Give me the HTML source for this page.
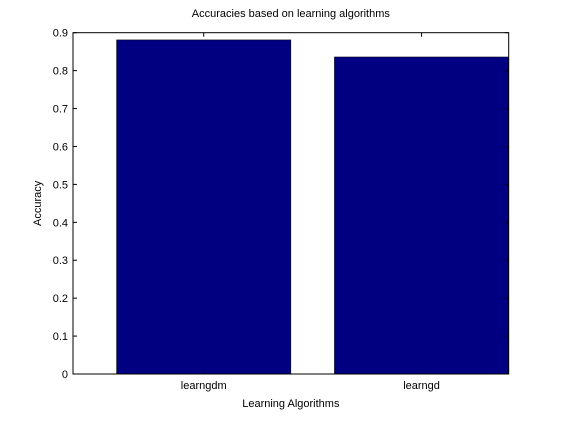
<!DOCTYPE html>
<html><head><meta charset="utf-8"><style>
body{margin:0;background:#fff;}
svg text{font-family:"Liberation Sans",Arial,sans-serif;font-size:11px;fill:#000;}
</style></head><body>
<svg width="561" height="420">
<rect width="561" height="420" fill="#fff"/>
<g id="plot"></g>
</svg>
<script>
const categories=["learngdm","learngd"];
const values=[0.881,0.836];
const yTicks=[0,0.1,0.2,0.3,0.4,0.5,0.6,0.7,0.8,0.9];
const yTickLabels=["0","0.1","0.2","0.3","0.4","0.5","0.6","0.7","0.8","0.9"];
const L=73,R=508.7,T=32.7,B=374,xmin=0.4,xmax=2.4,ymax=0.9;
const xs=v=>L+(v-xmin)/(xmax-xmin)*(R-L);
const ys=v=>B-v/ymax*(B-T);
const g=document.getElementById('plot');
const NS='http://www.w3.org/2000/svg';
function mk(t,a,txt){const e=document.createElementNS(NS,t);for(const k in a)e.setAttribute(k,a[k]);if(txt!==undefined)e.textContent=txt;g.appendChild(e);return e;}
categories.forEach((c,i)=>{
 const x0=xs(i+1-0.4),x1=Math.min(xs(i+1+0.4),R);
 const b=mk('rect',{x:x0,y:ys(values[i]),width:x1-x0,height:B-ys(values[i]),fill:'#000080',stroke:'#000','stroke-width':0.5});
 
 
 const t=mk('text',{x:xs(i+1),y:B+15,'text-anchor':'middle'},c);
 
 
 mk('line',{x1:xs(i+1),x2:xs(i+1),y1:B,y2:B-4,stroke:'#000'});
 mk('line',{x1:xs(i+1),x2:xs(i+1),y1:T,y2:T+4,stroke:'#000'});
});
yTicks.forEach((v,i)=>{
 const y=ys(v);
 mk('line',{x1:L,x2:L+4,y1:y,y2:y,stroke:'#000'});
 mk('line',{x1:R,x2:R-4,y1:y,y2:y,stroke:'#000'});
 const t=mk('text',{x:L-5,y:y+4,'text-anchor':'end'},yTickLabels[i]);
 
 
});
const ax=mk('rect',{x:L,y:T,width:R-L,height:B-T,fill:'none',stroke:'#000','stroke-width':1});


const tt=mk('text',{x:(L+R)/2,y:17,'text-anchor':'middle'},'Accuracies based on learning algorithms');


const xl=mk('text',{x:(L+R)/2,y:407,'text-anchor':'middle','font-size':'12px'},'Learning Algorithms');


const yl=mk('text',{x:0,y:0,'text-anchor':'middle',transform:'translate(41,'+((T+B)/2)+') rotate(-90)','font-size':'12px'},'Accuracy');


</script>
</body></html>
